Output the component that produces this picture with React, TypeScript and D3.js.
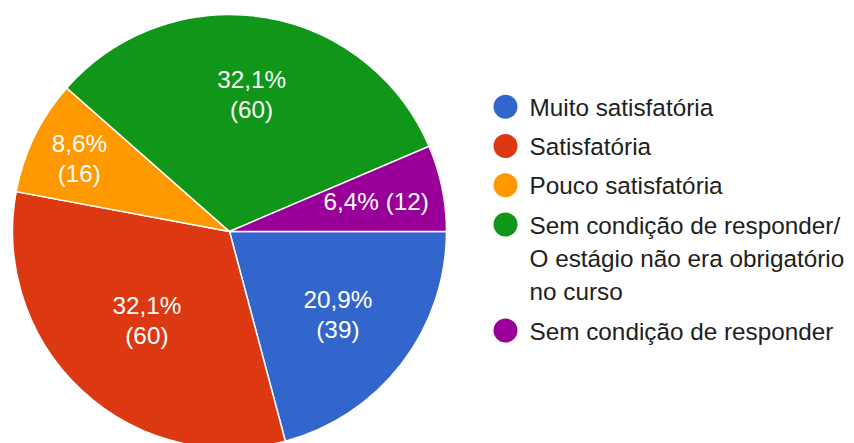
import React, { useEffect, useRef } from 'react'
import * as d3 from 'd3'

// categories and answers
const categories = [
  'Muito satisfatória',
  'Satisfatória',
  'Pouco satisfatória',
  'Sem condição de responder/ O estágio não era obrigatório no curso',
  'Sem condição de responder',
]
const counts = [39, 60, 16, 60, 12]
const percentLabels = ['20,9%', '32,1%', '8,6%', '32,1%', '6,4%']
const colors = ['#3366cc', '#dc3912', '#ff9900', '#109618', '#990099']

// layout
const width = 854
const height = 443
const cx = 229.5
const cy = 231.5
const radius = 217
const fontFamily = '"Liberation Sans", Arial, sans-serif'
const fontSize = 24.3
// how far out each slice label sits (fraction of the radius)
const labelRadius = [0.63, 0.56, 0.77, 0.64, 0.69]

const App = () => {
  const svgRef = useRef<SVGSVGElement>(null)

  useEffect(() => {
    if (!svgRef.current) return
    const svg = d3.select(svgRef.current)
    svg.selectAll('*').remove()

    const pie = d3
      .pie<number>()
      .sort(null)
      .value((d) => d)
      .startAngle(Math.PI / 2)
      .endAngle(Math.PI / 2 + 2 * Math.PI)
    const arcs = pie(counts)
    const arc = d3.arc<d3.PieArcDatum<number>>().innerRadius(0).outerRadius(radius)

    const g = svg.append('g').attr('transform', `translate(${cx},${cy})`)

    g.selectAll('path')
      .data(arcs)
      .enter()
      .append('path')
      .attr('d', arc)
      .attr('fill', (d, i) => colors[i])
      .attr('stroke', '#fff')
      .attr('stroke-width', 1.5)

    // slice labels; tiny slices get one line
    arcs.forEach((d, i) => {
      const r = radius * labelRadius[i]
      const [lx, ly] = d3.arc<d3.PieArcDatum<number>>().innerRadius(r).outerRadius(r).centroid(d)
      const small = d.endAngle - d.startAngle < 0.45
      const t = g
        .append('text')
        .attr('text-anchor', 'middle')
        .attr('fill', '#fff')
        .style('font-family', fontFamily)
        .style('font-size', `${fontSize}px`)
      if (small) {
        t.append('tspan').attr('x', lx).attr('y', ly + 8.5).text(`${percentLabels[i]} (${counts[i]})`)
      } else {
        t.append('tspan').attr('x', lx).attr('y', ly - 15 + 8.5).text(percentLabels[i])
        t.append('tspan').attr('x', lx).attr('y', ly + 15 + 8.5).text(`(${counts[i]})`)
      }
    })

    // legend with simple word wrap
    const ctx = document.createElement('canvas').getContext('2d')!
    ctx.font = `${fontSize}px ${fontFamily}`
    const maxWidth = 322
    const wrap = (s: string) => {
      const words = s.split(' ')
      const lines: string[] = []
      let cur = ''
      words.forEach((w) => {
        const next = cur ? cur + ' ' + w : w
        if (cur && ctx.measureText(next).width > maxWidth) {
          lines.push(cur)
          cur = w
        } else cur = next
      })
      if (cur) lines.push(cur)
      return lines
    }

    const legend = svg.append('g')
    let y = 115.7
    categories.forEach((c, i) => {
      const lines = wrap(c)
      legend.append('circle').attr('cx', 505.5).attr('cy', y - 9).attr('r', 12).attr('fill', colors[i])
      const t = legend
        .append('text')
        .attr('fill', '#212121')
        .style('font-family', fontFamily)
        .style('font-size', `${fontSize}px`)
      lines.forEach((l, j) => {
        t.append('tspan').attr('x', 529.5).attr('y', y + j * 33.3).text(l)
      })
      y += (lines.length - 1) * 33.3 + 39.3
    })
  }, [])

  return (
    <div style={{ position: 'absolute', left: 0, top: 0 }}>
      <svg ref={svgRef} width={width} height={height} style={{ display: 'block', background: '#fff' }}></svg>
    </div>
  )
}

export default App
